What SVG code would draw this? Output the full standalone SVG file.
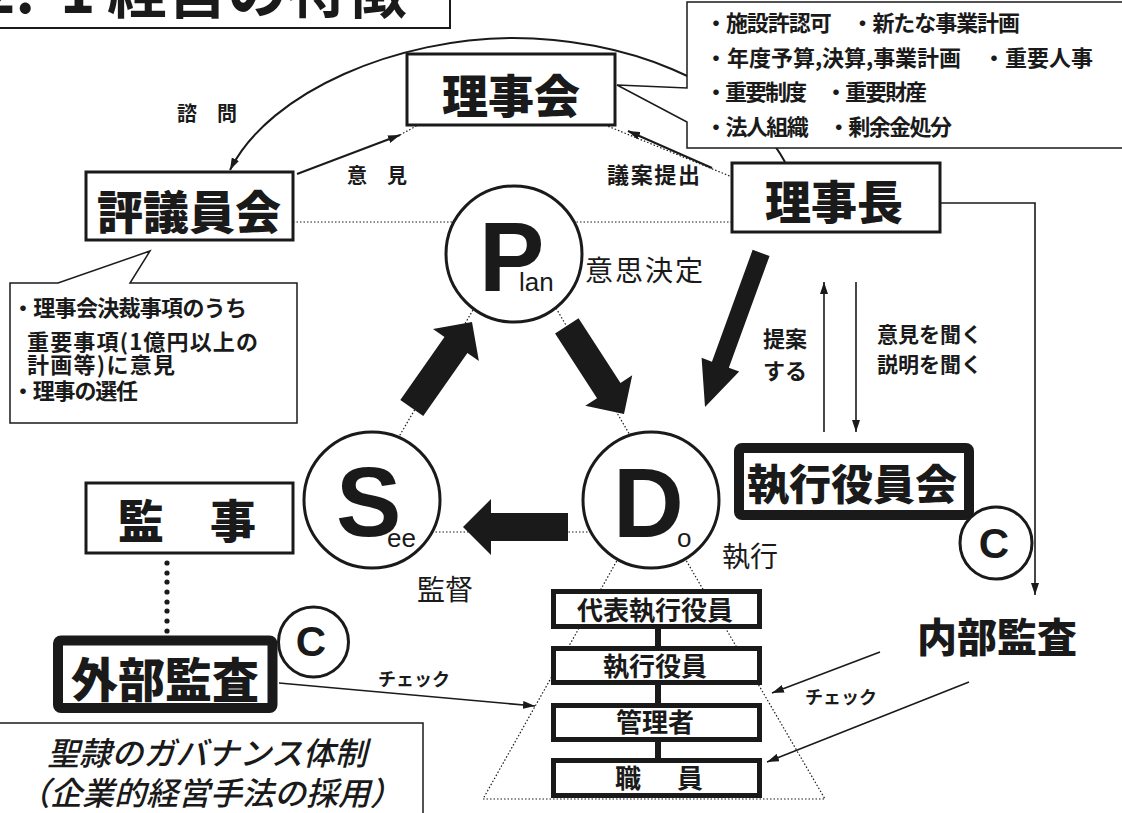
<svg xmlns="http://www.w3.org/2000/svg" width="1122" height="813" viewBox="0 0 1122 813">
<defs>
<style>
.box{fill:#fff;stroke:#1a1a1a;stroke-width:3}
.thick{fill:#fff;stroke:#1a1a1a;stroke-width:10}
.hier{fill:#fff;stroke:#1a1a1a;stroke-width:5}
.circ{fill:#fff;stroke:#1a1a1a;stroke-width:3}
.bubble{fill:#fff;stroke:#1a1a1a;stroke-width:1.5}
.ln{fill:none;stroke:#1a1a1a;stroke-width:2}
.thin{fill:none;stroke:#1a1a1a;stroke-width:1.6}
.dot{fill:none;stroke:#1a1a1a;stroke-width:1.2;stroke-dasharray:1.5 2}
.big{fill:#1a1a1a}
.jp{font-family:"Noto Sans CJK JP","Noto Sans CJK SC",sans-serif;fill:#1a1a1a}
.b{font-weight:700}
.h{font-weight:900}
.r{font-weight:400}
.lat{font-family:"Liberation Sans",Arial,sans-serif;fill:#1a1a1a}
.mid{text-anchor:middle}
</style>
<marker id="ah" viewBox="0 0 12 8" refX="12" refY="4" markerWidth="12" markerHeight="8" markerUnits="userSpaceOnUse" orient="auto"><path d="M0,0 L12,4 L0,8 z" fill="#1a1a1a"/></marker>
<path id="bigArrow" d="M0,0 L-28,-28 L-28,-14 L-105,-14 L-105,14 L-28,14 L-28,28 Z"/>
</defs>
<rect width="1122" height="813" fill="#fff"/>

<g id="title">
<text class="jp b" y="13" font-size="60"><tspan x="-20">2.</tspan><tspan x="60">1</tspan><tspan x="107">経営の特徴</tspan></text>
<path d="M0,28 H450 V0" class="ln" stroke-width="3"/>
</g>

<g id="connectors">
<path d="M785,162 C740,80 620,38 513,38 C400,38 270,90 230,170" class="ln" stroke-width="2.5" marker-end="url(#ah)"/>
<line x1="297" y1="174" x2="400" y2="135" class="ln" marker-end="url(#ah)"/>
<line x1="400" y1="135" x2="418" y2="125" class="dot"/>
<line x1="605" y1="125" x2="732" y2="177" class="dot"/>
<line x1="712" y1="168" x2="628" y2="131" class="ln" marker-end="url(#ah)"/>
<line x1="293" y1="222" x2="732" y2="222" class="dot"/>
<polyline points="940,203 1035,203 1035,595" class="thin" marker-end="url(#ah)"/>
<line x1="824" y1="432" x2="824" y2="282" class="thin" marker-end="url(#ah)"/>
<line x1="856" y1="282" x2="856" y2="432" class="thin" marker-end="url(#ah)"/>
<line x1="480" y1="298" x2="390" y2="452" class="dot"/>
<line x1="549" y1="296" x2="638" y2="449" class="dot"/>
<line x1="432" y1="532" x2="591" y2="532" class="dot"/>
<path d="M651,500 L483,799 H825 Z" class="dot"/>
<line x1="880" y1="652" x2="772" y2="693" class="thin" marker-end="url(#ah)"/>
<line x1="969" y1="682" x2="767" y2="762" class="thin" marker-end="url(#ah)"/>
<line x1="279" y1="683" x2="535" y2="706" class="thin" marker-end="url(#ah)"/>
<rect x="655" y="625" width="6" height="135" fill="#1a1a1a"/>
<g fill="#1a1a1a">
<circle cx="167" cy="563" r="2.6"/><circle cx="167" cy="573" r="2.6"/><circle cx="167" cy="582" r="2.6"/><circle cx="167" cy="592" r="2.6"/><circle cx="167" cy="602" r="2.6"/><circle cx="167" cy="611" r="2.6"/><circle cx="167" cy="621" r="2.6"/><circle cx="167" cy="631" r="2.6"/>
</g>
</g>

<g id="callout-rijikai">
<path d="M687,2 H1130 V148 H687 V122 L617,85 L687,88 Z" class="bubble"/>
<text class="jp b" font-size="22" x="705" y="31" textLength="315">・施設許認可　・新たな事業計画</text>
<text class="jp b" font-size="22" x="705" y="65.5" textLength="388">・年度予算,決算,事業計画　・重要人事</text>
<text class="jp b" font-size="22" x="705" y="100" textLength="222">・重要制度　・重要財産</text>
<text class="jp b" font-size="22" x="705" y="134.5" textLength="247">・法人組織　・剰余金処分</text>
</g>

<g id="rijikai">
<rect x="407" y="54" width="208" height="71" class="box"/>
<text class="jp h mid" font-size="46" x="511" y="113">理事会</text>
</g>

<g id="hyogiinkai">
<rect x="86" y="172" width="207" height="68" class="box"/>
<text class="jp h mid" font-size="46" x="189" y="229">評議員会</text>
</g>

<g id="rijicho">
<rect x="732" y="163" width="208" height="69" class="box"/>
<text class="jp h mid" font-size="46" x="834" y="219">理事長</text>
</g>

<g id="callout-hyogiin">
<path d="M10,283 H58 L150,251 L130,283 H297 V423 H10 Z" class="bubble"/>
<text class="jp b" font-size="22" x="12" y="316" textLength="235">・理事会決裁事項のうち</text>
<text class="jp b" font-size="22" x="27" y="350" textLength="231">重要事項(1億円以上の</text>
<text class="jp b" font-size="22" x="27" y="373" textLength="148">計画等)に意見</text>
<text class="jp b" font-size="22" x="12" y="399" textLength="126">・理事の選任</text>
</g>

<g id="labels">
<text class="jp b" font-size="20" x="177" y="120.5">諮　問</text>
<text class="jp b" font-size="20" x="347" y="182.5">意　見</text>
<text class="jp b" font-size="22" x="607" y="183" textLength="93">議案提出</text>
<text class="jp b" font-size="22" x="763" y="347">提案</text>
<text class="jp b" font-size="22" x="763" y="379">する</text>
<text class="jp b" font-size="21" x="877" y="342" textLength="105">意見を聞く</text>
<text class="jp b" font-size="21" x="877" y="372" textLength="105">説明を聞く</text>
<text class="jp r" font-size="28" x="585" y="280.5" textLength="118">意思決定</text>
<text class="jp r" font-size="28" x="722" y="566.5">執行</text>
<text class="jp r" font-size="28" x="417" y="600">監督</text>
<text class="jp b" font-size="18" x="805" y="704">チェック</text>
<text class="jp b" font-size="18" x="378" y="686">チェック</text>
</g>

<g id="plan">
<circle cx="514" cy="254" r="68" class="circ"/>
<text class="lat" font-weight="bold" font-size="98" x="479" y="291">P</text>
<text class="lat" font-size="26" x="519" y="291">lan</text>
</g>

<g id="see">
<circle cx="372" cy="500" r="68" class="circ"/>
<text class="lat" font-weight="bold" font-size="98" x="336" y="536">S</text>
<text class="lat" font-size="26" x="387" y="547">ee</text>
</g>

<g id="do">
<circle cx="651" cy="500" r="68" class="circ"/>
<text class="lat" font-weight="bold" font-size="98" x="613" y="537">D</text>
<text class="lat" font-size="26" x="677" y="547">o</text>
</g>

<g id="big-arrows" class="big">
<use href="#bigArrow" transform="translate(472,322) rotate(-55)"/>
<use href="#bigArrow" transform="translate(624,414) rotate(57)"/>
<use href="#bigArrow" transform="translate(463,527) rotate(180)"/>
<path d="M0,0 L-45,-20 L-45,-9 L-164,-9 L-164,9 L-45,9 L-45,20 Z" transform="translate(705,407) rotate(110)"/>
</g>

<g id="shikkoyakuinkai">
<rect x="739" y="448" width="230" height="67" rx="3" class="thick"/>
<text class="jp h mid" font-size="42" x="852" y="500">執行役員会</text>
</g>

<g id="c1">
<circle cx="996" cy="543" r="36" class="circ"/>
<text class="lat mid" font-weight="bold" font-size="42" x="994" y="558">C</text>
</g>

<g id="naibukansa">
<text class="jp h mid" font-size="40" x="997" y="652">内部監査</text>
</g>

<g id="kanji">
<rect x="86" y="483" width="207" height="70" class="box"/>
<text class="jp h mid" font-size="46" x="187" y="538">監　事</text>
</g>

<g id="gaibukansa">
<rect x="58" y="640.5" width="214.5" height="67.5" rx="3" class="thick" stroke-width="9.5"/>
<text class="jp h mid" font-size="47" x="165" y="697">外部監査</text>
</g>

<g id="c2">
<circle cx="313.5" cy="642" r="35" class="circ"/>
<text class="lat mid" font-weight="bold" font-size="42" x="311" y="656">C</text>
</g>

<g id="daihyo">
<rect x="553.5" y="591.5" width="206" height="35" class="hier"/>
<text class="jp b mid" font-size="26" x="655" y="620">代表執行役員</text>
</g>
<g id="shikkoyakuin">
<rect x="553.5" y="648.5" width="206" height="34" class="hier"/>
<text class="jp b mid" font-size="26" x="655" y="676">執行役員</text>
</g>
<g id="kanrisha">
<rect x="553.5" y="705.5" width="206" height="34" class="hier"/>
<text class="jp b mid" font-size="26" x="655" y="731.5">管理者</text>
</g>
<g id="shokuin">
<rect x="553.5" y="760.5" width="206" height="35" class="hier"/>
<text class="jp b" font-size="26" x="615" y="787.5" textLength="88">職　員</text>
</g>

<g id="caption">
<rect x="-5" y="723" width="428" height="100" class="bubble"/>
<text class="jp mid" font-weight="500" font-size="32" font-style="italic" x="207" y="765">聖隷のガバナンス体制</text>
<text class="jp mid" font-weight="500" font-size="32" font-style="italic" x="210" y="805">（企業的経営手法の採用）</text>
</g>
</svg>
